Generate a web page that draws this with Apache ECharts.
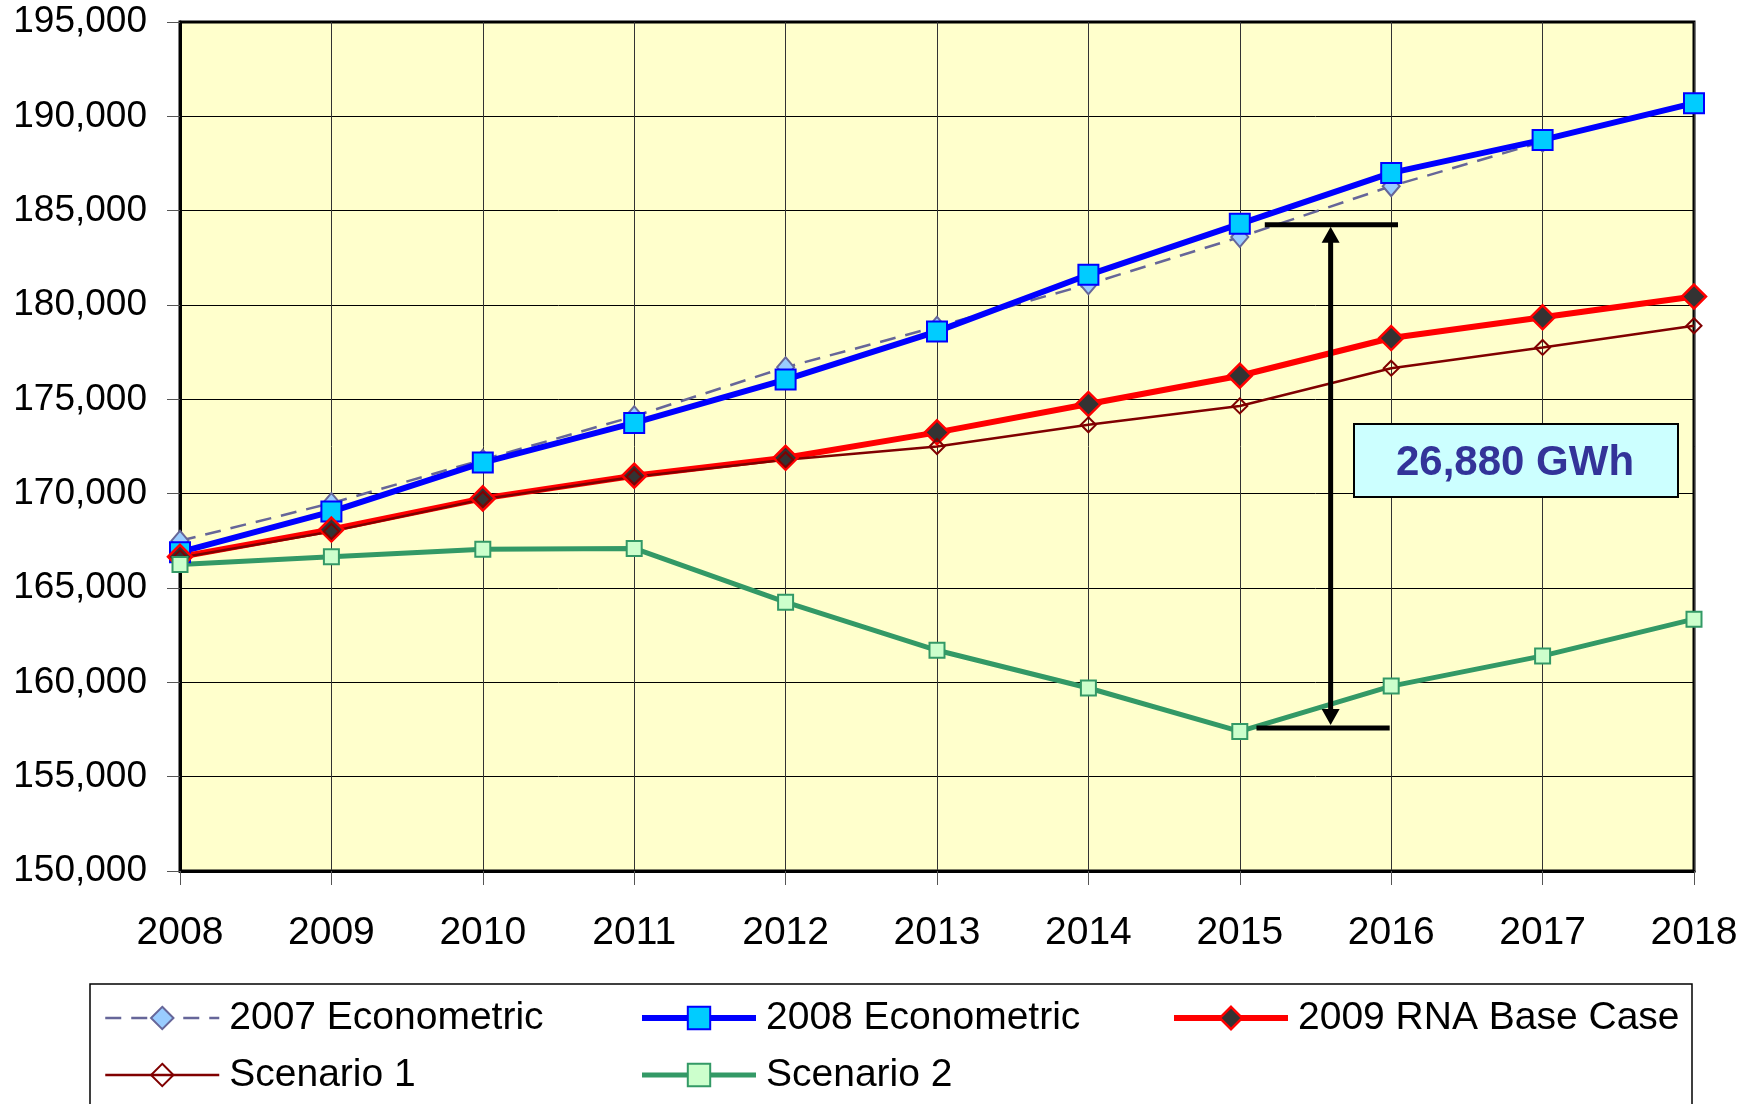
<!DOCTYPE html>
<html>
<head>
<meta charset="utf-8">
<title>Load forecast comparison</title>
<script src="https://cdn.jsdelivr.net/npm/echarts@6/dist/echarts.min.js"></script>
<style>
  html, body { margin: 0; padding: 0; background: #fff; }
  #chart1 { width: 1757px; height: 1104px; }
</style>
</head>
<body>
<div id="chart1"></div>
<script>
var years = ['2008', '2009', '2010', '2011', '2012', '2013', '2014', '2015', '2016', '2017', '2018'];
var econ2007 = [167500, 169500, 171800, 174100, 176700, 178850, 181100, 183600, 186300, 188650, null];
var econ2008 = [166900, 169050, 171650, 173750, 176050, 178600, 181600, 184300, 187000, 188750, 190700];
var rnaBase = [166650, 168100, 169750, 170950, 171900, 173250, 174750, 176250, 178250, 179350, 180450];
var scenario1 = [166600, 168000, 169700, 170900, 171800, 172500, 173650, 174650, 176650, 177750, 178900];
var scenario2 = [166250, 166650, 167050, 167100, 164250, 161700, 159700, 157400, 159800, 161400, 163350];
var yMin = 150000, yMax = 195000, yStep = 5000;
// gap annotation between 2008 Econometric and Scenario 2 in 2015
var gapTop = 184300, gapBottom = 157420, gapLabel = '26,880 GWh';

var font = 'Liberation Sans, Arial, sans-serif';

var chart = echarts.init(document.getElementById('chart1'));

var styles = {
    '2007 Econometric': { line: { color: '#666699', width: 2.5, type: [16, 10] },
        item: { color: '#99CCFF', borderColor: '#666699', borderWidth: 2 } },
    '2008 Econometric': { line: { color: '#0000FF', width: 6 },
        item: { color: '#00CCFF', borderColor: '#0000FF', borderWidth: 2 } },
    '2009 RNA Base Case': { line: { color: '#FF0000', width: 6 },
        item: { color: '#333333', borderColor: '#FF0000', borderWidth: 2.5 } },
    'Scenario 1': { line: { color: '#800000', width: 2.5 },
        item: { color: 'rgba(0,0,0,0)', borderColor: '#800000', borderWidth: 2 } },
    'Scenario 2': { line: { color: '#339966', width: 5 },
        item: { color: '#CCFFCC', borderColor: '#339966', borderWidth: 2 } }
};

var legendText = { fontFamily: font, fontSize: 39, color: '#000', lineHeight: 40, padding: [0, 0, 0, 5] };
function legendAt(left, names) {
    return {
        orient: 'vertical', left: left, top: 998, padding: 0,
        itemWidth: 114, itemHeight: 28, itemGap: 17,
        textStyle: legendText, selectedMode: false,
        data: names.map(function (n) {
            return { name: n, lineStyle: styles[n].line, itemStyle: styles[n].item };
        })
    };
}

function lineSeries(name, data, symbol, size) {
    return {
        name: name, type: 'line', data: data,
        symbol: symbol, symbolSize: size,
        lineStyle: styles[name].line,
        itemStyle: styles[name].item
    };
}

var option = {
    animation: false,
    backgroundColor: '#fff',
    grid: {
        left: 180, right: 63, top: 22, bottom: 233,
        show: true, backgroundColor: '#FFFFCC', borderColor: '#000', borderWidth: 3
    },
    xAxis: {
        type: 'category',
        data: years,
        boundaryGap: false,
        axisLine: { lineStyle: { color: '#000', width: 3 } },
        axisTick: { show: true, length: 14, interval: 0, lineStyle: { color: '#555' } },
        axisLabel: { fontFamily: font, fontSize: 39, color: '#000', margin: 43, interval: 0 },
        splitLine: { show: true, interval: 0, lineStyle: { color: '#333', width: 1 } }
    },
    yAxis: {
        type: 'value',
        min: yMin, max: yMax, interval: yStep,
        axisLine: { show: true, lineStyle: { color: '#000', width: 3 } },
        axisTick: { show: true, length: 13, lineStyle: { color: '#555' } },
        axisLabel: {
            fontFamily: font, fontSize: 37, color: '#000', margin: 33,
            formatter: function (v) { return v.toLocaleString('en-US'); }
        },
        splitLine: { show: true, lineStyle: { color: '#000', width: 1 } }
    },
    legend: [
        legendAt(104, ['2007 Econometric', 'Scenario 1']),
        legendAt(639, ['2008 Econometric', 'Scenario 2']),
        legendAt(1171, ['2009 RNA Base Case'])
    ],
    series: [
        lineSeries('2007 Econometric', econ2007, 'diamond', [17, 20]),
        lineSeries('2008 Econometric', econ2008, 'rect', 20),
        lineSeries('2009 RNA Base Case', rnaBase, 'diamond', 24),
        lineSeries('Scenario 1', scenario1, 'diamond', 15),
        lineSeries('Scenario 2', scenario2, 'rect', 15)
    ]
};
chart.setOption(option);

// annotation drawn from the axis scales
var p7 = chart.convertToPixel({ gridIndex: 0 }, [7, gapTop]);
var p8 = chart.convertToPixel({ gridIndex: 0 }, [8, gapBottom]);
var dx = p8[0] - p7[0];
var yTop = p7[1] + 1, yBot = p8[1] - 3;
var ax = p7[0] + 0.6 * dx;
var head = 16, hw = 9;

chart.setOption({
    graphic: [
        { type: 'rect', shape: { x: 90, y: 984, width: 1602, height: 200 },
          style: { fill: 'none', stroke: '#000', lineWidth: 1.5 }, z: 1 },
        { type: 'line', shape: { x1: p7[0] + 0.165 * dx, y1: yTop, x2: p7[0] + 1.045 * dx, y2: yTop },
          style: { stroke: '#000', lineWidth: 5 }, z: 10 },
        { type: 'line', shape: { x1: p7[0] + 0.11 * dx, y1: yBot, x2: p7[0] + 0.99 * dx, y2: yBot },
          style: { stroke: '#000', lineWidth: 5 }, z: 10 },
        { type: 'line', shape: { x1: ax, y1: yTop + head, x2: ax, y2: yBot - head },
          style: { stroke: '#000', lineWidth: 5 }, z: 10 },
        { type: 'polygon', shape: { points: [[ax, yTop + 2], [ax - hw, yTop + 2 + head], [ax + hw, yTop + 2 + head]] },
          style: { fill: '#000' }, z: 10 },
        { type: 'polygon', shape: { points: [[ax, yBot - 3], [ax - hw, yBot - 3 - head], [ax + hw, yBot - 3 - head]] },
          style: { fill: '#000' }, z: 10 },
        { type: 'rect', shape: { x: 1354, y: 424, width: 324, height: 73 },
          style: { fill: '#CCFFFF', stroke: '#000', lineWidth: 2 }, z: 10 },
        { type: 'text', x: 1515, y: 463, z: 11,
          style: { text: gapLabel, fill: '#333399', font: 'bold 42px ' + font, align: 'center', verticalAlign: 'middle' } }
    ]
});

window.addEventListener('resize', function () { chart.resize(); });
</script>
</body>
</html>
